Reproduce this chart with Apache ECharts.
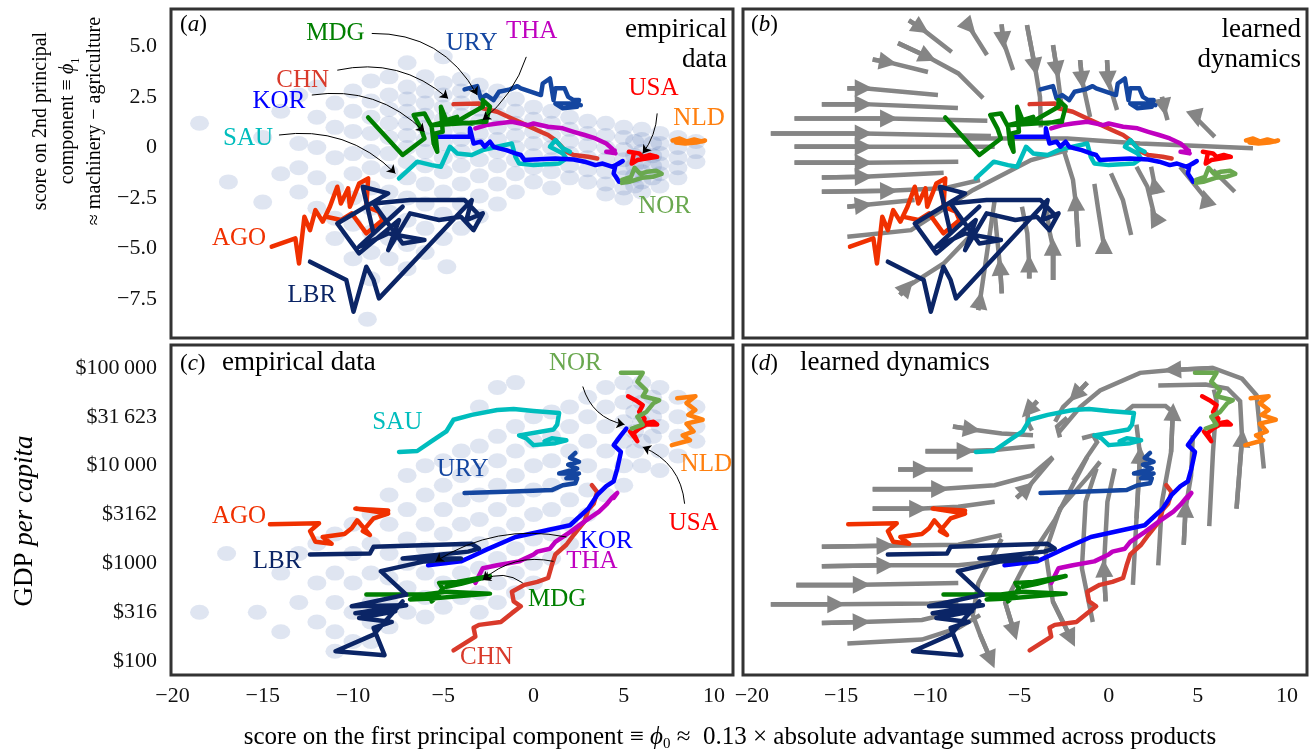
<!DOCTYPE html>
<html>
<head>
<meta charset="utf-8">
<script src="https://cdn.jsdelivr.net/npm/echarts@6/dist/echarts.min.js"></script>
<style>
  html, body { margin: 0; padding: 0; background: #fff; }
  #chart { width: 1309px; height: 755px; }
</style>
</head>
<body>
<div id="chart"></div>
<script>
// tick labels
const xTicks = [-20, -15, -10, -5, 0, 5, 10];
const pcTicks = [-7.5, -5, -2.5, 0, 2.5, 5];
const gdpTicks = [2, 2.5, 3, 3.5, 4, 4.5, 5]; // log10 of GDP per capita

// country trajectories: [phi0, phi1]
const agoPC = [[-14.5,-4.91],[-13.19,-4.5],[-12.99,-5.74],[-12.69,-3.43],[-12.38,-4.09],[-12.08,-3.1],[-11.68,-3.67],[-11.28,-2.93],[-10.87,-1.94],[-10.67,-2.77],[-10.27,-2.02],[-10.17,-2.93],[-9.66,-1.78],[-9.16,-1.53],[-9.26,-2.93],[-8.56,-3.18],[-8.36,-3.59],[-9.26,-4.25],[-10.07,-3.26],[-10.67,-3.59],[-11.48,-3.43]];
const lbrPC = [[-12.38,-5.65],[-10.37,-6.56],[-9.97,-8.13],[-9.26,-5.9],[-8.86,-6.56],[-8.56,-7.47],[-3.42,-2.6],[-3.72,-3.59],[-2.81,-3.26],[-3.32,-4.09],[-4.02,-3.43],[-5.23,-3.59],[-6.84,-3.26],[-8.05,-5.08],[-7.45,-3.59],[-9.66,-5.24],[-10.87,-3.76],[-8.05,-2.27],[-9.46,-1.94],[-8.86,-4.25],[-7.25,-2.93],[-9.66,-4.91],[-8.05,-4.25],[-6.04,-4.58],[-7.25,-4.75],[-8.86,-2.77],[-6.84,-2.6],[-3.82,-2.6],[-2.92,-3.43]];
const mdgPC = [[-9.16,1.49],[-7.25,-0.37],[-6.04,0.45],[-6.24,0.95],[-6.64,1.61],[-6.04,1.69],[-5.64,1.03],[-5.53,0.2],[-5.33,-0.21],[-5.43,0.7],[-5.03,0.78],[-5.13,2.02],[-4.83,1.36],[-4.23,1.52],[-4.43,1.19],[-3.62,1.61],[-2.81,2.02],[-2.81,2.35],[-2.41,2.02],[-2.61,1.36],[-3.42,1.19],[-4.83,1.28],[-5.64,1.11],[-2.61,1.28]];
const chnPC = [[-4.43,2.15],[-3.02,2.18],[-2.81,1.94],[-2.01,1.77],[-1.2,1.44],[-0.4,1.11],[0.21,0.86],[0.81,0.62],[1.21,0.37],[1.82,-0.21],[2.22,-0.37],[3.03,-0.46],[3.53,-0.54]];
const thaPC = [[-3.22,0.95],[-2.61,1.11],[-2.01,1.19],[-1.2,1.28],[-0.3,1.11],[0,1.19],[0.81,1.03],[1.62,0.95],[2.22,0.78],[2.83,0.62],[3.43,0.45],[4.03,0.2],[4.34,-0.04],[4.54,-0.29],[4.03,-0.21],[4.5,-0.15]];
const korPC = [[-5.43,0.53],[-3.52,0.53],[-3.52,0.95],[-3.32,0.2],[-2.92,0.29],[-2.71,0.04],[-2.41,0.29],[-2.21,0.04],[-1.91,-0.04],[-1.51,-0.13],[-1,-0.29],[-0.7,-0.37],[-0.5,-0.62],[0,-0.59],[1.21,-0.54],[2.22,-0.59],[2.83,-0.7],[3.43,-0.87],[3.83,-0.79],[4.34,-0.95],[4.74,-0.79],[4.94,-0.67],[4.54,-0.87],[4.44,-1.28],[4.74,-1.69],[5.14,-1.69]];
const uryPC = [[-3.82,2.88],[-3.12,3.04],[-2.92,2.43],[-2.61,2.6],[-2.21,2.35],[-1.91,2.76],[-1.3,2.88],[-0.9,3.04],[-0.7,2.93],[0.41,2.6],[0.51,3.17],[0.91,3.42],[1.11,2.35],[1.21,2.93],[1.72,2.93],[1.92,2.51],[2.22,2.35],[2.52,2.35],[2.42,2.02],[1.62,1.94],[1.21,2.18],[2.02,2.18],[2.62,2.1]];
const sauPC = [[-7.45,-1.53],[-6.84,-1.03],[-6.44,-0.7],[-5.64,-0.87],[-5.13,-0.95],[-4.63,0.04],[-4.23,-0.29],[-3.42,-0.37],[-2.81,-0.13],[-2.01,0.04],[-1.2,0.2],[-1,-0.46],[-0.8,-0.79],[0,-0.87],[1.42,-0.79],[1.82,-0.54],[1.62,-0.29],[0.91,0.04],[1.21,0.37],[1.62,-0.04],[2.02,-0.21]];
const usaPC = [[5.28,-0.21],[5.85,-0.29],[6.05,-0.46],[6.45,-0.37],[6.85,-0.46],[6.25,-0.54],[5.75,-0.62],[5.44,-0.79],[5.54,-0.37]];
const norPC = [[4.9,-1.6],[5.4,-1.45],[5.6,-1.0],[5.9,-1.3],[6.3,-1.2],[6.8,-1.15],[7.1,-1.3],[6.6,-1.45],[6.0,-1.5],[5.3,-1.7],[4.9,-1.75]];
const nldPC = [[7.7,0.35],[8.1,0.45],[8.5,0.3],[8.9,0.4],[9.3,0.3],[9.5,0.35],[9.0,0.25],[8.4,0.2],[7.9,0.25]];

// country trajectories: [phi0, log10 GDP per capita]
const agoGdp = [[-14.6,3.4],[-11.88,3.41],[-12.38,3.33],[-12.08,3.22],[-11.18,3.2],[-11.68,3.27],[-10.47,3.3],[-10.07,3.36],[-9.77,3.44],[-9.06,3.29],[-9.46,3.33],[-8.86,3.46],[-8.05,3.51],[-9.87,3.56],[-8.05,3.54]];
const lbrGdp = [[-12.38,3.09],[-9.06,3.1],[-8.86,3.17],[-3.42,3.2],[-3.02,3.15],[-3.62,3.12],[-7.25,3.05],[-4.02,3.05],[-6.04,3.02],[-8.46,2.92],[-7.05,2.68],[-10.07,2.56],[-7.05,2.57],[-9.87,2.49],[-7.65,2.51],[-9.66,2.44],[-7.85,2.4],[-8.86,2.34],[-8.25,2.06],[-10.97,2.1],[-8.86,2.27],[-7.25,2.61]];
const mdgGdp = [[-9.26,2.68],[-6.04,2.68],[-4.83,2.71],[-2.41,2.69],[-5.64,2.64],[-6.84,2.63],[-5.23,2.68],[-5.64,2.61],[-5.03,2.74],[-5.23,2.8],[-4.23,2.81],[-3.02,2.85],[-2.41,2.87],[-4.02,2.79],[-4.83,2.76]];
const chnGdp = [[-4.43,2.11],[-3.22,2.25],[-3.32,2.34],[-3.02,2.37],[-1.81,2.4],[-1.2,2.49],[-0.7,2.56],[-1.1,2.61],[-1.2,2.71],[-0.5,2.78],[0.21,2.81],[0.81,2.85],[1.01,2.98],[1.21,3.09],[1.82,3.19],[2.22,3.29],[2.83,3.43],[3.03,3.55],[3.33,3.61],[3.53,3.73],[3.23,3.8]];
const thaGdp = [[-3.22,2.8],[-2.81,2.95],[-2.01,2.98],[-0.8,3.02],[0,3.09],[0.21,3.12],[0.91,3.15],[1.21,3.22],[2.02,3.32],[2.83,3.43],[3.63,3.53],[4.03,3.6],[4.34,3.67],[4.64,3.72],[4.44,3.67]];
const korGdp = [[-5.84,2.98],[-4.02,3.02],[-3.42,3.07],[-2.61,3.14],[-1,3.27],[2.02,3.39],[3.03,3.56],[3.53,3.7],[4.03,3.79],[4.44,3.84],[4.64,3.97],[4.84,4.14],[4.44,4.21],[4.84,4.31],[5.14,4.38]];
const uryGdp = [[-3.82,3.72],[-2.01,3.73],[-0.4,3.74],[1.01,3.75],[1.62,3.8],[2.32,3.82],[2.42,3.87],[1.82,3.87],[2.52,3.92],[1.42,3.92],[2.42,3.97],[1.92,4.01],[2.52,4.04],[2.02,4.08],[2.32,4.13]];
const sauGdp = [[-7.45,4.14],[-6.44,4.15],[-5.64,4.25],[-4.83,4.35],[-4.43,4.47],[-3.42,4.52],[-2.01,4.57],[-1.1,4.58],[0,4.56],[1.42,4.54],[1.31,4.42],[1.11,4.37],[-0.8,4.31],[-0.4,4.28],[0,4.21],[1.21,4.23],[1.82,4.26],[1.01,4.28],[0.61,4.25]];
const usaGdp = [[5.24,4.71],[5.65,4.67],[6.05,4.62],[5.85,4.55],[6.15,4.48],[6.05,4.43],[6.65,4.45],[6.85,4.42],[6.25,4.42],[5.85,4.38],[5.54,4.33],[5.75,4.25],[5.34,4.35]];
const norGdp = [[4.84,4.95],[6.05,4.95],[5.75,4.86],[6.25,4.77],[6.05,4.71],[6.96,4.67],[6.65,4.64],[6.25,4.55],[5.75,4.5],[6.05,4.42],[5.44,4.38]];
const nldGdp = [[7.96,4.69],[8.97,4.71],[8.47,4.64],[8.97,4.57],[8.57,4.52],[9.37,4.47],[8.47,4.43],[8.87,4.35],[8.26,4.31],[8.67,4.26],[7.66,4.21]];

// all country-years
const cloudPC = [[-18.5,1.2],[-16.9,-1.7],[-15,0.5],[-15,-2.7],[-14,1.8],[-14,-1.3],
 [-13,2.6],[-13,0.2],[-13,-1],[-13,-2.2],[-12,3],[-12,1.5],[-12,0],[-12,-1.5],[-12,-3],
 [-11,2.2],[-11,1],[-11,-0.5],[-11,-2],[-11,-3.5],[-11,-4.5],
 [-10,2.8],[-10,1.8],[-10,0.8],[-10,-0.3],[-10,-1.3],[-10,-2.5],[-10,-3.8],[-10,-5.5],
 [-9,3.3],[-9,2.3],[-9,1.5],[-9,0.7],[-9,-0.2],[-9,-1],[-9,-2],[-9,-3],[-9,-4.2],[-9,-5.2],[-9,-6.5],[-9.2,-8.5],
 [-8,3.5],[-8,2.6],[-8,1.9],[-8,1.2],[-8,0.5],[-8,-0.3],[-8,-1.2],[-8,-2.2],[-8,-3.2],[-8,-4.5],[-8,-5.5],
 [-7,4.2],[-7,3],[-7,2.4],[-7,1.8],[-7,1.2],[-7,0.6],[-7,0],[-7,-0.7],[-7,-1.5],[-7,-2.5],[-7,-3.6],[-7,-4.8],[-7,-6],
 [-6,3.5],[-6,2.8],[-6,2.2],[-6,1.6],[-6,1],[-6,0.4],[-6,-0.2],[-6,-0.9],[-6,-1.8],[-6,-2.8],[-6,-4],[-6,-5.2],
 [-5,4.5],[-5,3.2],[-5,2.6],[-5,2],[-5,1.4],[-5,0.8],[-5,0.2],[-5,-0.5],[-5,-1.2],[-5,-2.2],[-5,-3.3],[-5,-4.5],[-4.8,-5.9],
 [-4,3.4],[-4,2.8],[-4,2.2],[-4,1.6],[-4,1],[-4,0.4],[-4,-0.2],[-4,-0.9],[-4,-1.8],[-4,-2.8],[-4,-4],
 [-3,3.1],[-3,2.5],[-3,1.9],[-3,1.3],[-3,0.7],[-3,0.1],[-3,-0.6],[-3,-1.4],[-3,-2.4],[-3,-3.4],
 [-2,2.8],[-2,2.2],[-2,1.6],[-2,1],[-2,0.4],[-2,-0.2],[-2,-0.9],[-2,-1.8],[-2,-2.8],
 [-1,2.4],[-1,1.8],[-1,1.2],[-1,0.6],[-1,0],[-1,-0.6],[-1,-1.3],[-1,-2.2],
 [0,2],[0,1.4],[0,0.8],[0,0.2],[0,-0.4],[0,-1],[0,-1.7],
 [1,1.8],[1,1.2],[1,0.6],[1,0],[1,-0.6],[1,-1.2],[1,-2],
 [2,1.5],[2,0.9],[2,0.3],[2,-0.3],[2,-0.9],[2,-1.5],
 [3,1.3],[3,0.7],[3,0.1],[3,-0.5],[3,-1.1],[3,-1.7],
 [4,1.2],[4,0.6],[4,0],[4,-0.6],[4,-1.2],[4,-1.8],[4,-2.3],
 [5,1],[5,0.5],[5,-0.1],[5,-0.6],[5,-1],[5,-1.5],[5,-2],[5,-2.5],
 [5.6,0.3],[5.6,-0.4],[5.6,-0.9],[5.6,-1.4],[5.6,-1.9],
 [6,0.9],[6,0.4],[6,-0.2],[6,-0.7],[6,-1.2],[6,-1.7],[6,-2.2],
 [6.6,0.2],[6.6,-0.4],[6.6,-0.9],[6.6,-1.5],
 [7,0.7],[7,0.2],[7,-0.3],[7,-0.8],[7,-1.3],[7,-1.9],
 [8,0.5],[8,0],[8,-0.5],[8,-1],[8,-1.5],[9,0.3],[9,-0.2],[9,-0.7]];
const cloudGdp = [[-18.5,2.5],[-17,3.1],[-15.3,2.5],[-14,2.9],[-14,2.3],[-13,3.1],[-13,2.6],
 [-12,3.2],[-12,2.8],[-12,2.4],[-11,3.3],[-11,2.9],[-11,2.6],[-11,2.3],[-11,2.1],
 [-10,3.4],[-10,3.1],[-10,2.8],[-10,2.5],[-10,2.2],
 [-9,3.5],[-9,3.2],[-9,2.9],[-9,2.6],[-9,2.4],[-9,2.2],
 [-8,3.7],[-8,3.4],[-8,3.1],[-8,2.85],[-8,2.6],[-8,2.35],
 [-7,3.9],[-7,3.55],[-7,3.25],[-7,3],[-7,2.75],[-7,2.5],
 [-6,4],[-6,3.7],[-6,3.4],[-6,3.15],[-6,2.9],[-6,2.65],[-6,2.45],
 [-5,4.05],[-5,3.8],[-5,3.55],[-5,3.3],[-5,3.05],[-5,2.8],[-5,2.55],
 [-4,4.15],[-4,3.9],[-4,3.65],[-4,3.4],[-4,3.15],[-4,2.9],[-4,2.65],
 [-3,4.6],[-3,4.2],[-3,3.95],[-3,3.7],[-3,3.45],[-3,3.2],[-3,2.95],[-3,2.7],[-3,2.5],
 [-2,4.8],[-2,4.3],[-2,4.05],[-2,3.8],[-2,3.55],[-2,3.3],[-2,3.05],[-2,2.8],[-2,2.6],
 [-1,4.85],[-1,4.4],[-1,4.15],[-1,3.9],[-1,3.65],[-1,3.4],[-1,3.15],[-1,2.9],[-1,2.7],
 [0,4.5],[0,4.25],[0,4],[0,3.75],[0,3.5],[0,3.25],[0,3],[0,2.8],
 [1,4.55],[1,4.3],[1,4.05],[1,3.8],[1,3.55],[1,3.3],[1,3.05],
 [2,4.6],[2,4.4],[2,4.15],[2,3.9],[2,3.65],[2,3.4],[2,3.2],
 [3,4.7],[3,4.5],[3,4.25],[3,4],[3,3.75],[3,3.5],
 [4,4.8],[4,4.6],[4,4.4],[4,4.15],[4,3.9],[4,3.7],
 [5,4.85],[5,4.65],[5,4.45],[5,4.25],[5,4],[5,3.8],
 [5.6,4.75],[5.6,4.55],[5.6,4.35],[5.6,4.15],
 [6,4.85],[6,4.65],[6,4.45],[6,4.25],[6,4],
 [6.6,4.7],[6.6,4.5],[6.6,4.3],
 [7,4.8],[7,4.6],[7,4.4],[7,4.15],[7,3.95],
 [8,4.7],[8,4.5],[8,4.3],[8,4.1],[9,4.6],[9,4.4],[9,4.25]];

// learned flow field, streamlines [phi0, phi1]; arrowB = index of arrow tip (-1 none)
const flowB = [
 [[-18.94,0.7],[-13.73,0.7],[-6.6,0.57]],
 [[-17.61,1.44],[-12.31,1.44],[-6.8,1.33]],
 [[-17.61,0.04],[-13.73,0.04],[-6.39,0.04]],
 [[-17.61,-0.75],[-13.73,-0.75],[-8.43,-0.7]],
 [[-16.08,-1.48],[-13.73,-1.45],[-9.25,-1.25]],
 [[-16.08,-2.19],[-12.31,-2.14],[-9.25,-2.02],[-7.21,-1.61]],
 [[-14.65,-2.93],[-13.73,-2.85],[-10.88,-2.6]],
 [[-16.08,2.15],[-13.73,2.15],[-8.45,1.96]],
 [[-14.65,2.93],[-13.73,2.93],[-9.57,2.6]],
 [[-13.23,4.36],[-12.37,4.23],[-10.13,3.74]],
 [[-11.81,5.17],[-10.13,4.48],[-8.43,3.67],[-7.04,2.45]],
 [[-11.2,6.3],[-10.5,5.9],[-8.8,4.73]],
 [[-8.1,6.25],[-7.8,5.95],[-6.82,4.58]],
 [[-6.0,6.1],[-5.92,5.3],[-5.36,3.84]],
 [[-4.58,6.06],[-4.13,3.99],[-3.85,2.5],[-3.8,1.0]],
 [[-3.12,5.07],[-2.9,3.84],[-2.61,1.86]],
 [[-1.6,4.33],[-1.49,3.34],[-1.04,1.51]],
 [[-0.09,4.33],[-0.03,3.34],[0.47,1.86]],
 [[2.99,2.51],[3.1,2.0],[3.3,1.36]],
 [[4.83,1.85],[4.93,1.44],[5.95,0.53]],
 [[-8.02,0.45],[-2.31,0.45],[1.76,0.2],[8.09,-0.04]],
 [[-14.65,-4.42],[-11.08,-4.09],[-7.62,-2.11],[-4.35,-0.62],[-2.31,-0.13]],
 [[-3.13,-6.56],[-3.13,-4.91],[-3.33,-4.09],[-3.54,-2.6]],
 [[-4.46,-6.48],[-4.46,-5.74],[-4.56,-4.25],[-4.86,-2.93]],
 [[-5.99,-7.22],[-6.09,-5.9],[-6.39,-3.26]],
 [[-7.31,-8.05],[-7.21,-7.55],[-6.8,-5.08],[-6.39,-2.6]],
 [[-11.7,-7.3],[-11.29,-6.89],[-9.25,-5.74],[-7.62,-4.25]],
 [[-0.27,-5.08],[-0.27,-4.83],[-0.58,-3.1],[-0.8,-1.8]],
 [[1.26,-4.33],[0.8,-2.6],[0.13,-1.28]],
 [[2.68,-3.59],[2.58,-3.43],[2.17,-1.94],[1.56,-0.95]],
 [[5.54,-2.85],[5.44,-2.52],[4.62,-1.61],[4.01,-0.95]],
 [[-1.7,-4.91],[-1.85,-2.7],[-2.0,-1.6],[-2.52,-0.13]],
 [[2.68,-2.27],[2.58,-1.86],[2.38,-0.95]],
 [[7.07,-2.19],[5.85,-1.12]]
];
const arrowB = [1,1,1,1,1,1,1,1,1,1,1,1,1,1,1,1,1,1,1,1,-1,-1,1,1,1,1,1,1,-1,1,1,1,1,-1];

// learned flow field, streamlines [phi0, log10 GDP]
const flowD = [
 [[-18.94,2.58],[-15.27,2.58],[-10.06,2.59],[-8.43,2.61]],
 [[-17.51,2.78],[-13.84,2.78],[-8.43,2.8]],
 [[-16.08,2.97],[-12.51,2.98],[-8.43,2.98],[-6.39,3.02]],
 [[-16.08,3.17],[-12.51,3.18],[-8.43,3.19],[-5.99,3.29]],
 [[-16.08,2.39],[-13.84,2.4],[-10.47,2.42],[-8.43,2.51]],
 [[-14.65,2.18],[-10.47,2.22],[-8.43,2.34],[-7.21,2.47]],
 [[-13.23,3.56],[-10.68,3.56],[-8.43,3.58],[-6.39,3.63]],
 [[-13.23,3.76],[-9.45,3.76],[-6.39,3.8],[-4.35,3.9],[-3.13,4.09]],
 [[-11.8,3.96],[-10.47,3.96],[-7.62,3.96]],
 [[-10.27,4.15],[-8.02,4.15],[-6.39,4.16],[-4.15,4.2]],
 [[-8.73,4.4],[-7.66,4.37],[-6.0,4.33],[-4.24,4.31]],
 [[8.7,3.97],[8.29,4.72],[7.48,4.89],[5.85,5.0],[3.56,4.98],[1.76,4.95],[-0.48,4.77],[-1.6,4.6],[-2.33,4.44],[-2.84,4.33]],
 [[-1.2,4.85],[-1.88,4.72],[-2.56,4.6],[-3.0,4.45]],
 [[-4.0,4.66],[-4.52,4.56],[-4.55,4.45],[-4.3,4.36]],
 [[7.17,3.56],[7.48,4.28],[7.37,4.66],[6.66,4.79],[5.44,4.83],[2.78,4.82]],
 [[5.64,3.38],[5.85,4.14],[6.05,4.66],[5.9,4.78]],
 [[4.21,3.19],[4.31,3.56],[4.62,3.9],[4.72,4.31]],
 [[2.78,2.98],[2.99,3.63],[3.5,4.14],[3.6,4.55],[3.19,4.61],[1.36,4.61],[0.95,4.55]],
 [[1.36,2.78],[1.56,3.46],[1.76,4.11],[1.56,4.42]],
 [[-0.17,2.61],[-0.27,2.95],[-0.07,3.63],[0.34,3.97]],
 [[-0.89,2.4],[-1.5,2.95],[-1.29,3.63],[-0.68,3.97]],
 [[-0.48,4.04],[-1.09,3.9],[-2.72,3.56],[-3.54,3.12],[-3.13,2.61],[-2.11,2.23]],
 [[-1.2,4.09],[-3.0,3.45],[-4.8,2.95],[-5.8,2.6],[-5.3,2.3]],
 [[-6.0,3.25],[-7.3,2.8],[-7.62,2.47],[-7.21,2.27],[-6.6,2.01]],
 [[-5.17,3.67],[-4.56,3.77],[-3.13,4.08]],
 [[-2.33,4.49],[-2.89,4.4],[-2.73,4.29]],
 [[-1.49,4.28],[-0.87,4.31],[-0.65,4.24],[-1.21,4.09],[-2.0,3.85]]
];
const arrowD = [1,1,1,1,1,-1,1,1,1,1,1,4,1,1,1,-1,1,3,2,1,-1,5,4,4,1,-1,-1];

// country name labels and pointer arrows
const labelsPC = [['MDG',-10.97,5.65],['URY',-3.42,5.15],['THA',-0.1,5.73],['CHN',-12.79,3.34],['KOR',-14.1,2.27],['SAU',-15.81,0.45],['USA',6.65,2.93],['NLD',9.17,1.44],['NOR',7.26,-2.93],['AGO',-16.31,-4.5],['LBR',-12.28,-7.3]];
const labelsGdp = [['NOR',2.32,5.05],['SAU',-7.55,4.44],['URY',-3.92,3.96],['AGO',-16.31,3.48],['LBR',-14.2,3.02],['NLD',9.57,4.01],['USA',8.87,3.41],['KOR',4.03,3.22],['THA',3.23,3.02],['MDG',1.31,2.63],['CHN',-2.61,2.04]];
const pointersPC = [[[-8.96,5.65],[-3.12,2.6],0.3],[[-10.87,3.83],[-4.73,2.43],0.25],[[-12.28,2.6],[-6.04,0.78],0.25],[[-14.1,0.62],[-7.65,-1.28],0.25],[[-0.4,4.49],[-2.82,1.36],0.15],[[6.85,1.69],[6.05,-0.29],0.15]];
const pointersGdp = [[[2.73,4.81],[5.04,4.42],-0.3],[[8.37,3.61],[6.05,4.19],-0.3],[[1.82,3.27],[-5.43,3.02],-0.2],[[1.11,3.02],[-2.81,2.83],-0.25],[[-0.6,2.8],[-2.81,2.83],-0.3]];

const countries = [
  ['CHN', chnPC, chnGdp, '#d93a2b'],
  ['THA', thaPC, thaGdp, '#c000c0'],
  ['URY', uryPC, uryGdp, '#1446a0'],
  ['SAU', sauPC, sauGdp, '#00bdbd'],
  ['KOR', korPC, korGdp, '#0000ff'],
  ['MDG', mdgPC, mdgGdp, '#007f00'],
  ['AGO', agoPC, agoGdp, '#f03000'],
  ['LBR', lbrPC, lbrGdp, '#0b2566'],
  ['USA', usaPC, usaGdp, '#ff0000'],
  ['NOR', norPC, norGdp, '#6aa84f'],
  ['NLD', nldPC, nldGdp, '#ff7f0e']
];
const colorOf = {};
countries.forEach(c => { colorOf[c[0]] = c[3]; });

const FONT = 'Liberation Serif';
const minus = v => (v < 0 ? '\u2212' : '') + Math.abs(v);
const dollars = v => {
  const n = Math.round(Math.pow(10, v));
  return '$' + (n >= 10000 ? String(n).replace(/\B(?=(\d{3})+(?!\d))/g, '\u2009') : String(n));
};

const chart = echarts.init(document.getElementById('chart'));

const grids = [
  {left: 171, top: 9, width: 562, height: 329},
  {left: 743, top: 9, width: 564, height: 329},
  {left: 171, top: 345, width: 562, height: 330},
  {left: 743, top: 345, width: 564, height: 330}
].map(g => Object.assign(g, {show: true, borderColor: '#333', borderWidth: 3, backgroundColor: '#fff'}));

const xAxes = [0, 1, 2, 3].map(i => ({
  type: 'value', gridIndex: i,
  min: i % 2 ? -20.5 : -20.08, max: i % 2 ? 11.12 : 11.05,
  axisLine: {show: false}, axisTick: {show: false}, splitLine: {show: false},
  axisLabel: {show: i >= 2, customValues: xTicks, formatter: minus,
    fontFamily: FONT, fontSize: 22, color: '#111', margin: 10}
}));

const yAxes = [0, 1, 2, 3].map(i => {
  const gdp = i >= 2;
  return {
    type: 'value', gridIndex: i,
    min: gdp ? 1.857 : -9.43, max: gdp ? 5.235 : 6.86,
    axisLine: {show: false}, axisTick: {show: false}, splitLine: {show: false},
    axisLabel: {
      show: i % 2 === 0, customValues: gdp ? gdpTicks : pcTicks,
      fontFamily: FONT, fontSize: 22, color: '#111', margin: 14,
      formatter: gdp ? dollars : v => v === 0 ? '0' : (v < 0 ? '\u2212' : '') + Math.abs(v).toFixed(1)
    }
  };
});

const series = [];

// empirical clouds
[[0, cloudPC], [2, cloudGdp]].forEach(([i, pts]) => {
  series.push({
    type: 'scatter', xAxisIndex: i, yAxisIndex: i, data: pts, symbolSize: [19, 15], silent: true, z: 1,
    itemStyle: {color: 'rgb(78,112,175)', opacity: 0.18}
  });
});

// streamlines
[[1, flowB, arrowB], [3, flowD, arrowD]].forEach(([i, lines, tips]) => {
  series.push({
    type: 'lines', coordinateSystem: 'cartesian2d', xAxisIndex: i, yAxisIndex: i,
    polyline: true, silent: true, z: 2,
    lineStyle: {color: '#858585', width: 4.5, opacity: 1},
    data: lines.map(p => ({coords: p}))
  });
  series.push({
    type: 'lines', coordinateSystem: 'cartesian2d', xAxisIndex: i, yAxisIndex: i,
    silent: true, z: 2, symbol: ['none', 'triangle'], symbolSize: 18,
    lineStyle: {color: '#858585', width: 4.5, opacity: 1},
    itemStyle: {color: '#858585'},
    data: lines.map((p, k) => tips[k] > 0 ? {coords: [p[tips[k] - 1], p[tips[k]]]} : null).filter(d => d)
  });
});

// trajectories
[0, 1, 2, 3].forEach(i => {
  countries.forEach(c => {
    series.push({
      type: 'line', xAxisIndex: i, yAxisIndex: i, data: i < 2 ? c[1] : c[2],
      showSymbol: false, symbol: 'none', silent: true, z: 3, animation: false,
      lineStyle: {color: c[3], width: 4.5, join: 'round', cap: 'round'}
    });
  });
});

// pointer arrows and labels
[[0, pointersPC, labelsPC], [2, pointersGdp, labelsGdp]].forEach(([i, ptrs, labs]) => {
  series.push({
    type: 'lines', coordinateSystem: 'cartesian2d', xAxisIndex: i, yAxisIndex: i,
    silent: true, z: 4, symbol: ['none', 'arrow'], symbolSize: 8,
    lineStyle: {color: '#000', width: 1, opacity: 1},
    itemStyle: {color: '#000'},
    data: ptrs.map(p => ({coords: [p[0], p[1]], lineStyle: {curveness: p[2]}}))
  });
  series.push({
    type: 'scatter', xAxisIndex: i, yAxisIndex: i, symbolSize: 1, silent: true, z: 5,
    itemStyle: {color: 'rgba(0,0,0,0)', opacity: 1},
    label: {show: true, position: 'inside', formatter: '{b}', fontFamily: FONT, fontSize: 25},
    data: labs.map(l => ({name: l[0], value: [l[1], l[2]], label: {color: colorOf[l[0]]}}))
  });
});

const txt = (x, y, text, extra) => ({
  type: 'text', x: x, y: y, silent: true, z: 100,
  style: Object.assign({text: text, font: '27px "Liberation Serif"', fill: '#000'}, extra || {})
});
const tagRich = {
  n: {fontFamily: FONT, fontSize: 23, fill: '#000'},
  i: {fontFamily: FONT, fontSize: 23, fontStyle: 'italic', fill: '#000'}
};

chart.setOption({
  animation: false,
  textStyle: {fontFamily: FONT},
  grid: grids,
  xAxis: xAxes,
  yAxis: yAxes,
  series: series,
  graphic: [
    txt(180, 13, '{n|(}{i|a}{n|)}', {rich: tagRich}),
    txt(751, 13, '{n|(}{i|b}{n|)}', {rich: tagRich}),
    txt(180, 352, '{n|(}{i|c}{n|)}', {rich: tagRich}),
    txt(751, 352, '{n|(}{i|d}{n|)}', {rich: tagRich}),
    txt(727, 15, 'empirical\ndata', {align: 'right', textAlign: 'right', lineHeight: 30}),
    txt(1301, 15, 'learned\ndynamics', {align: 'right', textAlign: 'right', lineHeight: 30}),
    txt(222, 349, 'empirical data'),
    txt(800, 349, 'learned dynamics'),
    {
      type: 'text', x: 730, y: 737, silent: true,
      style: {
        text: '{n|score on the first principal component \u2261 }{i|\u03d5}{s|0}{n| \u2248  0.13 \u00d7 absolute advantage summed across products}',
        align: 'center', verticalAlign: 'middle', textAlign: 'center', textVerticalAlign: 'middle',
        rich: {
          n: {fontFamily: FONT, fontSize: 25, lineHeight: 30, fill: '#000'},
          i: {fontFamily: FONT, fontSize: 25, lineHeight: 30, fontStyle: 'italic', fill: '#000'},
          s: {fontFamily: FONT, fontSize: 15, lineHeight: 30, verticalAlign: 'bottom', fill: '#000'}
        }
      }
    },
    {
      type: 'text', x: 68, y: 121, rotation: Math.PI / 2, silent: true,
      style: {
        text: '{n|score on 2nd principal}\n{n|component \u2261 }{i|\u03d5}{s|1}\n{n|\u2248 machinery \u2212 agriculture}',
        align: 'center', verticalAlign: 'middle', textAlign: 'center', textVerticalAlign: 'middle',
        rich: {
          n: {fontFamily: FONT, fontSize: 20, lineHeight: 27, fill: '#000'},
          i: {fontFamily: FONT, fontSize: 20, lineHeight: 27, fontStyle: 'italic', fill: '#000'},
          s: {fontFamily: FONT, fontSize: 12, lineHeight: 27, verticalAlign: 'bottom', fill: '#000'}
        }
      }
    },
    {
      type: 'text', x: 25, y: 521, rotation: Math.PI / 2, silent: true,
      style: {
        text: '{n|GDP }{i|per capita}',
        align: 'center', verticalAlign: 'middle', textAlign: 'center', textVerticalAlign: 'middle',
        rich: {
          n: {fontFamily: FONT, fontSize: 27, fill: '#000'},
          i: {fontFamily: FONT, fontSize: 27, fontStyle: 'italic', fill: '#000'}
        }
      }
    }
  ]
});
</script>
</body>
</html>
